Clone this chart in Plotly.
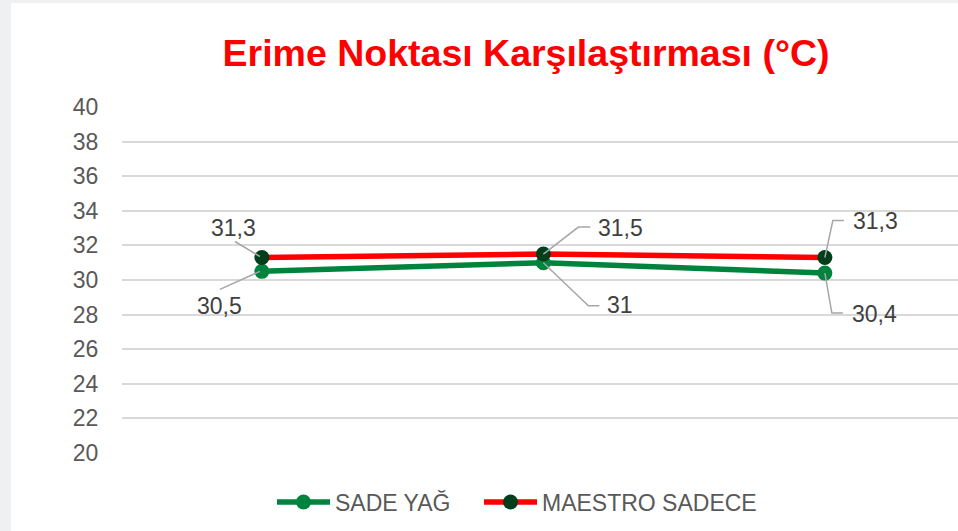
import plotly.graph_objects as go

categories = ["Ölçüm 1", "Ölçüm 2", "Ölçüm 3"]
sade_yag = [30.5, 31.0, 30.4]
maestro = [31.3, 31.5, 31.3]
sade_labels = ["30,5", "31", "30,4"]
maestro_labels = ["31,3", "31,5", "31,3"]
y_ticks = list(range(20, 41, 2))

W, H = 958, 531
ML, MR, MT, MB = 122, 0, 107, 78
PW = W - ML - MR
PH = H - MT - MB

FONT = "Arial, Liberation Sans, sans-serif"
GREEN = "#00843d"
DARK = "#013f1c"
RED = "#ff0000"
LABEL_C = "#404040"
LEADER_C = "#a6a6a6"

fig = go.Figure()
fig.add_trace(go.Scatter(
    x=categories, y=sade_yag, name="SADE YAĞ", mode="lines+markers",
    line=dict(color=GREEN, width=5.5),
    marker=dict(color=GREEN, size=15), legend="legend",
))
fig.add_trace(go.Scatter(
    x=categories, y=maestro, name="MAESTRO SADECE", mode="lines+markers",
    line=dict(color=RED, width=5.5),
    marker=dict(color=DARK, size=15), legend="legend2",
))

# label offsets (px, screen: +x right, +y down) and leader paths (px, +y up)
sade_off = [(-42, 35), (77, 42), (50, 41)]
maestro_off = [(-28, -30), (77, -26), (51, -37)]
sade_lead = [[(-42, -18), (-2, 0)],
             [(56, -43), (45, -43), (0, 0)],
             [(18, -40), (7, -40), (0, 0)]]
maestro_lead = [[(-27, 16), (-2, 1)],
                [(47, 27), (35, 27), (0, 0)],
                [(19, 37), (8, 37), (0, 0)]]


def add_labels(vals, texts, offs, leads):
    for cat, val, txt, (dx, dy), pts in zip(categories, vals, texts, offs, leads):
        fig.add_annotation(x=cat, y=val, text=txt, showarrow=False,
                           xshift=dx, yshift=-dy,
                           font=dict(family=FONT, size=23, color=LABEL_C))
        path = "M" + " L".join(f"{px},{py}" for px, py in pts)
        fig.add_shape(type="path", xref="x", yref="y",
                      xsizemode="pixel", ysizemode="pixel",
                      xanchor=cat, yanchor=val, path=path,
                      line=dict(color=LEADER_C, width=1.5), layer="above")


add_labels(sade_yag, sade_labels, sade_off, sade_lead)
add_labels(maestro, maestro_labels, maestro_off, maestro_lead)

# white panel over grey page background
fig.add_shape(type="rect", xref="paper", yref="paper", layer="below",
              x0=(11 - ML) / PW, x1=1 + 10 / PW,
              y0=-(MB + 5) / PH, y1=1 + (MT - 3) / PH,
              line=dict(width=0), fillcolor="white")

legend_common = dict(orientation="h", yanchor="middle",
                     y=-(502 - (MT + PH)) / PH,
                     font=dict(family=FONT, size=23, color="#595959"),
                     bgcolor="rgba(0,0,0,0)", itemwidth=53, borderwidth=0)

fig.update_layout(
    width=W, height=H,
    margin=dict(l=ML, r=MR, t=MT, b=MB, autoexpand=False),
    paper_bgcolor="#eef0f1",
    plot_bgcolor="rgba(0,0,0,0)",
    font=dict(family=FONT),
    title=dict(text="<b>Erime Noktası Karşılaştırması (°C)</b>",
               font=dict(family=FONT, size=37.5, color=RED),
               x=526 / W, xanchor="center", xref="container",
               y=1 - 53 / H, yanchor="middle", yref="container"),
    showlegend=True,
    legend=dict(x=(272 - ML) / PW, xanchor="left", **legend_common),
    legend2=dict(x=(479 - ML) / PW, xanchor="left", **legend_common),
    xaxis=dict(type="category", range=[-0.497, 2.473], showticklabels=False,
               showgrid=False, zeroline=False, showline=False, ticks=""),
    yaxis=dict(range=[20, 40], tickvals=y_ticks, showgrid=True,
               gridcolor="#d9d9d9", gridwidth=1.5, zeroline=False,
               showline=False, ticks="outside", ticklen=18,
               tickcolor="rgba(0,0,0,0)",
               tickfont=dict(family=FONT, size=23, color="#595959")),
)

fig.write_html("out.html", config={"displayModeBar": False},
               post_script="document.body.style.margin='0';document.body.style.padding='0';")
